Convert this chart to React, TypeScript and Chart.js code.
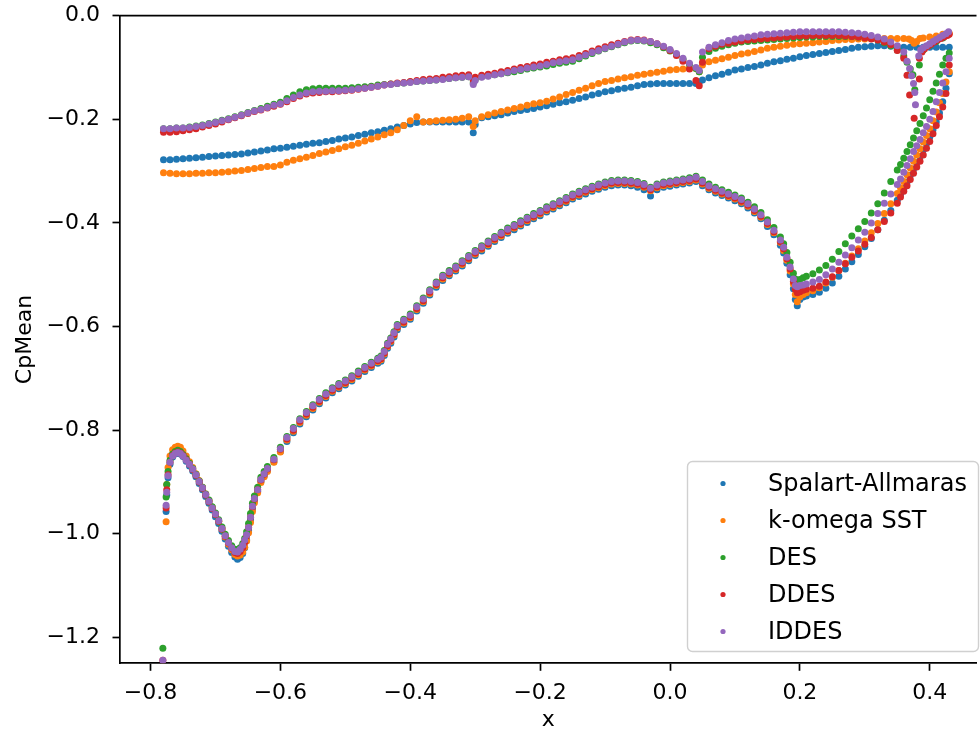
import React, { useEffect, useRef } from "react";
import { Chart, registerables } from "chart.js";

Chart.register(...registerables);

// ---------- data ----------
const seriesLabels = ["Spalart-Allmaras", "k-omega SST", "DES", "DDES", "IDDES"];
const seriesColors = ["#1f77b4", "#ff7f0e", "#2ca02c", "#d62728", "#9467bd"];

const xTicks = [-0.8, -0.6, -0.4, -0.2, 0.0, 0.2, 0.4];
const yTicks = [-1.2, -1.0, -0.8, -0.6, -0.4, -0.2, 0.0];

// upper surface (shared x)
const upperX = [
  -0.78, -0.77, -0.76, -0.75, -0.74, -0.73, -0.72, -0.71, -0.70, -0.69,
  -0.68, -0.67, -0.66, -0.65, -0.64, -0.63, -0.62, -0.61, -0.60, -0.59,
  -0.58, -0.57, -0.56, -0.55, -0.54, -0.53, -0.52, -0.51, -0.50, -0.49,
  -0.48, -0.47, -0.46, -0.45, -0.44, -0.43, -0.42, -0.41, -0.40, -0.39,
  -0.38, -0.37, -0.36, -0.35, -0.34, -0.33, -0.32, -0.31, -0.303, -0.30,
  -0.29, -0.28, -0.27, -0.26, -0.25, -0.24, -0.23, -0.22, -0.21, -0.20,
  -0.19, -0.18, -0.17, -0.16, -0.15, -0.14, -0.13, -0.12, -0.11, -0.10,
  -0.09, -0.08, -0.07, -0.06, -0.05, -0.04, -0.03, -0.02, -0.01, 0.00,
  0.01, 0.02, 0.03, 0.04, 0.045, 0.05, 0.06, 0.07, 0.08, 0.09,
  0.10, 0.11, 0.12, 0.13, 0.14, 0.15, 0.16, 0.17, 0.18, 0.19,
  0.20, 0.21, 0.22, 0.23, 0.24, 0.25, 0.26, 0.27, 0.28, 0.29,
  0.30, 0.31, 0.32, 0.33, 0.34, 0.35, 0.36,
];

const saUpper = [
  -0.278, -0.278, -0.277, -0.276, -0.275, -0.274, -0.273, -0.272, -0.271, -0.270,
  -0.269, -0.268, -0.267, -0.265, -0.263, -0.261, -0.259, -0.257, -0.256, -0.254,
  -0.252, -0.250, -0.248, -0.246, -0.245, -0.243, -0.241, -0.238, -0.236, -0.234,
  -0.231, -0.229, -0.226, -0.224, -0.221, -0.218, -0.215, -0.212, -0.209, -0.206,
  -0.205, -0.205, -0.205, -0.205, -0.205, -0.205, -0.205, -0.205, -0.226, -0.210,
  -0.197, -0.195, -0.193, -0.191, -0.188, -0.185, -0.183, -0.181, -0.179, -0.176,
  -0.174, -0.171, -0.168, -0.166, -0.163, -0.160, -0.157, -0.153, -0.150, -0.147,
  -0.145, -0.142, -0.140, -0.138, -0.135, -0.133, -0.132, -0.131, -0.131, -0.131,
  -0.131, -0.131, -0.131, -0.131, -0.128, -0.124, -0.120, -0.116, -0.113, -0.109,
  -0.105, -0.103, -0.100, -0.098, -0.095, -0.092, -0.089, -0.087, -0.084, -0.082,
  -0.079, -0.077, -0.075, -0.073, -0.071, -0.069, -0.067, -0.065, -0.063, -0.061,
  -0.060, -0.059, -0.058, -0.058, -0.059, -0.060, -0.061,
];

const kwUpper = [
  -0.303, -0.304, -0.305, -0.305, -0.305, -0.304, -0.304, -0.303, -0.303, -0.302,
  -0.301, -0.300, -0.299, -0.297, -0.295, -0.293, -0.291, -0.291, -0.288, -0.283,
  -0.279, -0.276, -0.273, -0.270, -0.266, -0.263, -0.260, -0.257, -0.253, -0.250,
  -0.246, -0.242, -0.238, -0.234, -0.230, -0.226, -0.220, -0.212, -0.203, -0.195,
  -0.205, -0.204, -0.203, -0.202, -0.201, -0.200, -0.198, -0.195, -0.214, -0.203,
  -0.195, -0.191, -0.188, -0.185, -0.182, -0.179, -0.176, -0.173, -0.170, -0.168,
  -0.165, -0.161, -0.157, -0.152, -0.148, -0.144, -0.140, -0.135, -0.131, -0.127,
  -0.125, -0.122, -0.120, -0.118, -0.115, -0.113, -0.111, -0.109, -0.107, -0.105,
  -0.104, -0.103, -0.102, -0.102, -0.108, -0.095, -0.089, -0.086, -0.083, -0.080,
  -0.077, -0.074, -0.072, -0.069, -0.066, -0.063, -0.061, -0.059, -0.057, -0.055,
  -0.054, -0.053, -0.052, -0.051, -0.050, -0.048, -0.047, -0.046, -0.046, -0.045,
  -0.045, -0.044, -0.044, -0.044, -0.044, -0.044, -0.044,
];

const desUpper = [
  -0.218, -0.218, -0.217, -0.217, -0.215, -0.213, -0.211, -0.208, -0.205, -0.202,
  -0.199, -0.195, -0.191, -0.187, -0.183, -0.179, -0.175, -0.171, -0.167, -0.160,
  -0.153, -0.147, -0.143, -0.141, -0.140, -0.140, -0.140, -0.140, -0.140, -0.139,
  -0.138, -0.137, -0.136, -0.134, -0.133, -0.132, -0.131, -0.130, -0.128, -0.127,
  -0.126, -0.125, -0.124, -0.122, -0.121, -0.120, -0.119, -0.118, -0.130, -0.123,
  -0.118, -0.116, -0.114, -0.112, -0.110, -0.108, -0.106, -0.103, -0.101, -0.099,
  -0.097, -0.094, -0.092, -0.090, -0.088, -0.083, -0.078, -0.073, -0.068, -0.064,
  -0.060, -0.056, -0.052, -0.049, -0.048, -0.049, -0.052, -0.056, -0.062, -0.068,
  -0.075, -0.084, -0.094, -0.102, -0.108, -0.080, -0.069, -0.063, -0.059, -0.056,
  -0.053, -0.051, -0.050, -0.049, -0.048, -0.047, -0.046, -0.045, -0.044, -0.043,
  -0.042, -0.041, -0.041, -0.040, -0.040, -0.040, -0.040, -0.040, -0.040, -0.041,
  -0.042, -0.044, -0.047, -0.052, -0.058, -0.066, -0.078,
];

const ddesUpper = [
  -0.225, -0.225, -0.224, -0.222, -0.220, -0.218, -0.215, -0.212, -0.209, -0.205,
  -0.201, -0.197, -0.193, -0.189, -0.185, -0.182, -0.178, -0.175, -0.171, -0.166,
  -0.160, -0.155, -0.151, -0.149, -0.148, -0.147, -0.147, -0.146, -0.145, -0.144,
  -0.142, -0.140, -0.138, -0.136, -0.134, -0.132, -0.130, -0.129, -0.127, -0.125,
  -0.123, -0.122, -0.121, -0.119, -0.118, -0.116, -0.115, -0.114, -0.124, -0.119,
  -0.115, -0.113, -0.111, -0.108, -0.106, -0.103, -0.100, -0.098, -0.095, -0.093,
  -0.090, -0.088, -0.085, -0.083, -0.081, -0.077, -0.073, -0.068, -0.064, -0.060,
  -0.056, -0.053, -0.050, -0.047, -0.046, -0.047, -0.050, -0.054, -0.060, -0.067,
  -0.077, -0.088, -0.103, -0.125, -0.135, -0.090, -0.064, -0.059, -0.055, -0.053,
  -0.051, -0.049, -0.047, -0.046, -0.045, -0.044, -0.043, -0.042, -0.041, -0.040,
  -0.039, -0.039, -0.038, -0.038, -0.038, -0.038, -0.038, -0.039, -0.040, -0.041,
  -0.043, -0.045, -0.047, -0.051, -0.056, -0.067, -0.082,
];

const iddesUpper = [
  -0.218, -0.218, -0.217, -0.217, -0.216, -0.214, -0.212, -0.209, -0.206, -0.203,
  -0.200, -0.196, -0.192, -0.188, -0.184, -0.181, -0.177, -0.173, -0.170, -0.164,
  -0.158, -0.153, -0.149, -0.147, -0.146, -0.146, -0.145, -0.145, -0.144, -0.143,
  -0.141, -0.140, -0.138, -0.136, -0.134, -0.133, -0.131, -0.130, -0.129, -0.127,
  -0.126, -0.125, -0.124, -0.123, -0.121, -0.120, -0.119, -0.118, -0.133, -0.125,
  -0.119, -0.117, -0.114, -0.112, -0.109, -0.106, -0.104, -0.101, -0.099, -0.097,
  -0.094, -0.091, -0.089, -0.087, -0.085, -0.080, -0.076, -0.071, -0.067, -0.063,
  -0.059, -0.055, -0.051, -0.048, -0.047, -0.048, -0.050, -0.054, -0.059, -0.065,
  -0.073, -0.082, -0.092, -0.100, -0.106, -0.070, -0.061, -0.056, -0.052, -0.048,
  -0.045, -0.043, -0.041, -0.039, -0.037, -0.036, -0.035, -0.034, -0.033, -0.032,
  -0.031, -0.031, -0.031, -0.031, -0.031, -0.031, -0.031, -0.032, -0.033, -0.034,
  -0.036, -0.038, -0.041, -0.045, -0.051, -0.058, -0.070,
];

// trailing-edge cusp of the upper surface (own x per series)
const saTeX = [0.37, 0.38, 0.39, 0.40, 0.41, 0.42, 0.43];
const saTeY = [-0.061, -0.061, -0.061, -0.061, -0.061, -0.061, -0.061];
const kwTeX = [0.368, 0.372, 0.376, 0.380, 0.385, 0.39, 0.40, 0.41, 0.42, 0.43];
const kwTeY = [-0.045, -0.048, -0.053, -0.050, -0.044, -0.043, -0.041, -0.039, -0.036, -0.034];
const desTeX = [0.365, 0.370, 0.374, 0.377, 0.384, 0.39, 0.40, 0.41, 0.42, 0.428];
const desTeY = [-0.090, -0.103, -0.114, -0.143, -0.095, -0.066, -0.057, -0.050, -0.043, -0.037];
const ddesTeX = [0.365, 0.369, 0.376, 0.384, 0.384, 0.388, 0.392, 0.397, 0.402, 0.407, 0.412, 0.417, 0.422, 0.427, 0.43];
const ddesTeY = [-0.115, -0.153, -0.198, -0.122, -0.082, -0.070, -0.064, -0.059, -0.055, -0.051, -0.047, -0.044, -0.041, -0.038, -0.036];
const iddesTeX = [0.365, 0.369, 0.372, 0.375, 0.377, 0.378, 0.383, 0.386, 0.39, 0.395, 0.40, 0.405, 0.41, 0.415, 0.42, 0.425, 0.429];
const iddesTeY = [-0.088, -0.102, -0.116, -0.131, -0.148, -0.172, -0.078, -0.066, -0.062, -0.058, -0.054, -0.050, -0.046, -0.042, -0.038, -0.035, -0.031];

// lower surface (shared x)
const lowerX = [
  -0.781,
  -0.776, -0.775, -0.773, -0.770, -0.766, -0.762, -0.758, -0.754, -0.750, -0.745,
  -0.740, -0.735, -0.730, -0.725, -0.720, -0.715, -0.710, -0.705, -0.700, -0.695,
  -0.690, -0.685, -0.680, -0.675, -0.670, -0.666, -0.662, -0.658, -0.655, -0.652,
  -0.649, -0.646, -0.643, -0.640, -0.635, -0.630, -0.625, -0.620, -0.610, -0.600,
  -0.59, -0.58, -0.57, -0.56, -0.55, -0.54, -0.53, -0.52, -0.51, -0.50,
  -0.49, -0.48, -0.47, -0.46, -0.45, -0.445, -0.44, -0.435, -0.43, -0.425,
  -0.42, -0.41, -0.40, -0.39, -0.38, -0.37, -0.36, -0.35,
  -0.34, -0.33, -0.32, -0.31, -0.30, -0.29, -0.28, -0.27, -0.26, -0.25,
  -0.24, -0.23, -0.22, -0.21, -0.20, -0.19, -0.18, -0.17, -0.16, -0.15,
  -0.14, -0.13, -0.12, -0.11, -0.10, -0.09, -0.08, -0.07, -0.06, -0.05,
  -0.04, -0.03, -0.02, -0.01, 0.00, 0.01, 0.02, 0.03, 0.04, 0.05,
  0.06, 0.07, 0.08, 0.09, 0.10, 0.11, 0.12, 0.13, 0.14,
  0.15, 0.16, 0.17, 0.175, 0.18, 0.185, 0.19, 0.193, 0.196, 0.20, 0.205, 0.21,
  0.22, 0.23, 0.24, 0.25, 0.26, 0.27, 0.28, 0.29, 0.30, 0.31, 0.32, 0.33, 0.34, 0.35,
  0.355, 0.36, 0.365, 0.37, 0.375, 0.38, 0.385, 0.39, 0.395, 0.40, 0.405, 0.41, 0.415, 0.42, 0.425, 0.43,
];

const saLower = [
  null,
  -0.957, -0.925, -0.892, -0.866, -0.852, -0.846, -0.844, -0.846, -0.851, -0.860,
  -0.869, -0.879, -0.890, -0.903, -0.915, -0.928, -0.941, -0.954, -0.967, -0.980,
  -0.995, -1.010, -1.024, -1.036, -1.045, -1.049, -1.046, -1.038, -1.027, -1.012,
  -0.994, -0.973, -0.952, -0.936, -0.918, -0.899, -0.888, -0.878, -0.861, -0.841,
  -0.822, -0.805, -0.788, -0.774, -0.761, -0.749, -0.738, -0.728, -0.720, -0.713,
  -0.705, -0.696, -0.687, -0.679, -0.671, -0.667, -0.656, -0.642, -0.632, -0.620,
  -0.606, -0.596, -0.586, -0.570, -0.555, -0.539, -0.524, -0.511,
  -0.502, -0.493, -0.483, -0.473, -0.463, -0.454, -0.445, -0.436, -0.428, -0.420,
  -0.413, -0.406, -0.399, -0.392, -0.386, -0.379, -0.373, -0.367, -0.361, -0.354,
  -0.349, -0.344, -0.339, -0.335, -0.331, -0.328, -0.327, -0.327, -0.328, -0.331,
  -0.336, -0.348, -0.336, -0.331, -0.329, -0.327, -0.325, -0.323, -0.320, -0.328,
  -0.336, -0.342, -0.347, -0.352, -0.357, -0.363, -0.371, -0.381, -0.392,
  -0.407, -0.423, -0.443, -0.458, -0.478, -0.500, -0.527, -0.548, -0.560, -0.548, -0.543, -0.541,
  -0.538, -0.534, -0.526, -0.516, -0.503, -0.489, -0.475, -0.461, -0.446, -0.430, -0.413, -0.395, -0.376, -0.356,
  -0.345, -0.333, -0.321, -0.308, -0.296, -0.284, -0.272, -0.259, -0.247, -0.234, -0.220, -0.205, -0.188, -0.166, -0.140, -0.112,
];

const kwLower = [
  null,
  -0.977, -0.905, -0.872, -0.850, -0.838, -0.833, -0.831, -0.833, -0.840, -0.850,
  -0.861, -0.872, -0.884, -0.897, -0.910, -0.923, -0.936, -0.949, -0.962, -0.976,
  -0.991, -1.006, -1.020, -1.031, -1.040, -1.043, -1.041, -1.035, -1.026, -1.014,
  -0.998, -0.978, -0.957, -0.940, -0.921, -0.901, -0.890, -0.880, -0.862, -0.842,
  -0.819, -0.802, -0.785, -0.771, -0.758, -0.746, -0.735, -0.725, -0.717, -0.710,
  -0.702, -0.693, -0.684, -0.676, -0.668, -0.664, -0.653, -0.639, -0.629, -0.617,
  -0.603, -0.593, -0.583, -0.567, -0.552, -0.536, -0.521, -0.508,
  -0.499, -0.490, -0.480, -0.470, -0.460, -0.451, -0.442, -0.433, -0.425, -0.417,
  -0.410, -0.403, -0.396, -0.389, -0.383, -0.376, -0.370, -0.364, -0.358, -0.351,
  -0.346, -0.341, -0.336, -0.332, -0.328, -0.325, -0.324, -0.324, -0.325, -0.327,
  -0.331, -0.338, -0.332, -0.328, -0.326, -0.324, -0.322, -0.320, -0.317, -0.325,
  -0.333, -0.339, -0.344, -0.349, -0.354, -0.360, -0.368, -0.378, -0.389,
  -0.403, -0.419, -0.438, -0.453, -0.472, -0.493, -0.518, -0.538, -0.552, -0.543, -0.538, -0.535,
  -0.531, -0.525, -0.516, -0.505, -0.492, -0.478, -0.464, -0.450, -0.435, -0.419, -0.401, -0.382, -0.363, -0.343,
  -0.332, -0.320, -0.307, -0.294, -0.281, -0.269, -0.257, -0.244, -0.231, -0.218, -0.203, -0.186, -0.168, -0.150, -0.128, -0.108,
];

const desLower = [
  -1.221,
  -0.929, -0.905, -0.880, -0.858, -0.846, -0.841, -0.839, -0.841, -0.847, -0.855,
  -0.864, -0.874, -0.885, -0.898, -0.910, -0.923, -0.935, -0.948, -0.960, -0.973,
  -0.987, -1.001, -1.013, -1.023, -1.030, -1.031, -1.027, -1.019, -1.009, -0.996,
  -0.980, -0.961, -0.941, -0.927, -0.910, -0.891, -0.880, -0.870, -0.853, -0.833,
  -0.812, -0.795, -0.778, -0.764, -0.751, -0.739, -0.728, -0.718, -0.710, -0.703,
  -0.695, -0.686, -0.677, -0.669, -0.661, -0.657, -0.646, -0.632, -0.622, -0.610,
  -0.596, -0.586, -0.576, -0.560, -0.545, -0.529, -0.514, -0.501,
  -0.492, -0.483, -0.473, -0.463, -0.453, -0.444, -0.435, -0.426, -0.418, -0.410,
  -0.403, -0.396, -0.389, -0.382, -0.376, -0.369, -0.363, -0.357, -0.351, -0.344,
  -0.339, -0.334, -0.329, -0.325, -0.321, -0.318, -0.317, -0.317, -0.318, -0.320,
  -0.324, -0.331, -0.325, -0.321, -0.319, -0.317, -0.315, -0.313, -0.310, -0.317,
  -0.325, -0.331, -0.336, -0.341, -0.346, -0.352, -0.360, -0.369, -0.380,
  -0.394, -0.409, -0.427, -0.440, -0.457, -0.476, -0.497, -0.508, -0.511, -0.509, -0.506, -0.503,
  -0.498, -0.491, -0.482, -0.470, -0.455, -0.440, -0.425, -0.411, -0.397, -0.381, -0.363, -0.342, -0.320, -0.298,
  -0.287, -0.275, -0.262, -0.249, -0.236, -0.222, -0.208, -0.193, -0.178, -0.162, -0.146, -0.130, -0.113, -0.095, -0.082, -0.072,
];

const ddesLower = [
  -1.244,
  -0.950, -0.915, -0.886, -0.862, -0.849, -0.844, -0.842, -0.844, -0.849, -0.857,
  -0.866, -0.876, -0.887, -0.900, -0.912, -0.925, -0.938, -0.951, -0.963, -0.976,
  -0.991, -1.005, -1.018, -1.028, -1.036, -1.038, -1.034, -1.027, -1.017, -1.004,
  -0.988, -0.968, -0.948, -0.933, -0.915, -0.896, -0.885, -0.875, -0.857, -0.837,
  -0.817, -0.800, -0.783, -0.769, -0.756, -0.744, -0.733, -0.723, -0.715, -0.708,
  -0.700, -0.691, -0.682, -0.674, -0.666, -0.662, -0.651, -0.637, -0.627, -0.615,
  -0.601, -0.591, -0.581, -0.565, -0.550, -0.534, -0.519, -0.506,
  -0.497, -0.488, -0.478, -0.468, -0.458, -0.449, -0.440, -0.431, -0.423, -0.415,
  -0.408, -0.401, -0.394, -0.387, -0.381, -0.374, -0.368, -0.362, -0.356, -0.349,
  -0.344, -0.339, -0.334, -0.330, -0.326, -0.323, -0.322, -0.322, -0.323, -0.325,
  -0.329, -0.336, -0.330, -0.326, -0.324, -0.322, -0.320, -0.318, -0.315, -0.323,
  -0.331, -0.337, -0.342, -0.347, -0.352, -0.358, -0.366, -0.376, -0.387,
  -0.401, -0.417, -0.436, -0.450, -0.469, -0.489, -0.513, -0.528, -0.535, -0.533, -0.530, -0.528,
  -0.526, -0.522, -0.514, -0.504, -0.492, -0.479, -0.466, -0.454, -0.441, -0.428, -0.413, -0.397, -0.381, -0.362,
  -0.350, -0.339, -0.328, -0.316, -0.304, -0.292, -0.281, -0.269, -0.256, -0.243, -0.228, -0.212, -0.195, -0.176, -0.150, -0.095,
];

const iddesLower = [
  -1.244,
  -0.945, -0.920, -0.888, -0.862, -0.850, -0.845, -0.843, -0.845, -0.850, -0.858,
  -0.866, -0.875, -0.886, -0.899, -0.911, -0.924, -0.937, -0.950, -0.962, -0.975,
  -0.990, -1.004, -1.017, -1.027, -1.034, -1.035, -1.030, -1.022, -1.012, -1.002,
  -0.988, -0.968, -0.947, -0.932, -0.915, -0.895, -0.884, -0.874, -0.856, -0.836,
  -0.814, -0.797, -0.780, -0.766, -0.753, -0.741, -0.730, -0.720, -0.712, -0.705,
  -0.697, -0.688, -0.679, -0.671, -0.663, -0.659, -0.648, -0.634, -0.624, -0.612,
  -0.598, -0.588, -0.578, -0.562, -0.547, -0.531, -0.516, -0.503,
  -0.494, -0.485, -0.475, -0.465, -0.455, -0.446, -0.437, -0.428, -0.420, -0.412,
  -0.405, -0.398, -0.391, -0.384, -0.378, -0.371, -0.365, -0.359, -0.353, -0.346,
  -0.341, -0.336, -0.331, -0.327, -0.323, -0.320, -0.319, -0.319, -0.320, -0.322,
  -0.326, -0.333, -0.327, -0.323, -0.321, -0.319, -0.317, -0.315, -0.312, -0.320,
  -0.328, -0.334, -0.339, -0.344, -0.349, -0.355, -0.363, -0.373, -0.384,
  -0.398, -0.414, -0.433, -0.447, -0.466, -0.485, -0.508, -0.521, -0.523, -0.521, -0.520, -0.518,
  -0.514, -0.509, -0.500, -0.489, -0.476, -0.462, -0.448, -0.433, -0.418, -0.400, -0.382, -0.362, -0.344, -0.326,
  -0.315, -0.302, -0.289, -0.276, -0.262, -0.251, -0.239, -0.226, -0.214, -0.200, -0.185, -0.166, -0.148, -0.130, -0.108, -0.082,
];

// ---------- helpers ----------
type P = { x: number; y: number | null };
function pairs(xs: number[], ys: (number | null)[]): P[] {
  return xs.map((x, i) => ({ x, y: ys[i] === undefined ? null : ys[i] }));
}

const seriesData: P[][] = [
  [...pairs(upperX, saUpper), ...pairs(saTeX, saTeY), ...pairs(lowerX, saLower)],
  [...pairs(upperX, kwUpper), ...pairs(kwTeX, kwTeY), ...pairs(lowerX, kwLower)],
  [...pairs(upperX, desUpper), ...pairs(desTeX, desTeY), ...pairs(lowerX, desLower)],
  [...pairs(upperX, ddesUpper), ...pairs(ddesTeX, ddesTeY), ...pairs(lowerX, ddesLower)],
  [...pairs(upperX, iddesUpper), ...pairs(iddesTeX, iddesTeY), ...pairs(lowerX, iddesLower)],
];

const FONT = '"DejaVu Sans", sans-serif';

function fmt(v: number): string {
  const r = Math.round(v * 10) / 10;
  const s = Math.abs(r).toFixed(1);
  return r < 0 ? "\u2212" + s : s;
}

const framePlugin = {
  id: "frameAndLegend",
  afterDraw(chart: any) {
    const { ctx, chartArea } = chart;
    ctx.save();
    // top spine
    ctx.strokeStyle = "#000";
    ctx.lineWidth = 1.7;
    ctx.beginPath();
    ctx.moveTo(chartArea.left - 0.85, chartArea.top);
    ctx.lineTo(chartArea.right, chartArea.top);
    ctx.stroke();

    // legend box
    const bx = 687.5, by = 461.5, bw = 291, bh = 190, r = 5;
    ctx.beginPath();
    ctx.moveTo(bx + r, by);
    ctx.lineTo(bx + bw - r, by);
    ctx.arcTo(bx + bw, by, bx + bw, by + r, r);
    ctx.lineTo(bx + bw, by + bh - r);
    ctx.arcTo(bx + bw, by + bh, bx + bw - r, by + bh, r);
    ctx.lineTo(bx + r, by + bh);
    ctx.arcTo(bx, by + bh, bx, by + bh - r, r);
    ctx.lineTo(bx, by + r);
    ctx.arcTo(bx, by, bx + r, by, r);
    ctx.closePath();
    ctx.fillStyle = "rgba(255,255,255,0.8)";
    ctx.fill();
    ctx.strokeStyle = "#d0d0d0";
    ctx.lineWidth = 1.4;
    ctx.stroke();

    ctx.font = `24px ${FONT}`;
    ctx.textBaseline = "middle";
    ctx.textAlign = "left";
    const rowY0 = 483.5, rowStep = 37;
    seriesLabels.forEach((lab, i) => {
      const y = rowY0 + i * rowStep;
      ctx.fillStyle = seriesColors[i];
      ctx.beginPath();
      ctx.arc(723, y, 2.6, 0, Math.PI * 2);
      ctx.fill();
      ctx.fillStyle = "#000";
      ctx.fillText(lab, 768, y + 1);
    });
    ctx.restore();
  },
};

export default function App() {
  const ref = useRef<HTMLCanvasElement | null>(null);

  useEffect(() => {
    if (!ref.current) return;
    const datasets = seriesLabels.map((lab, i) => ({
      label: lab,
      data: seriesData[i],
      backgroundColor: seriesColors[i],
      borderColor: seriesColors[i],
      pointRadius: 3.5,
      pointBorderWidth: 0,
      pointHoverRadius: 3.5,
      showLine: false,
      order: seriesLabels.length - i,
    }));

    const chart = new Chart(ref.current, {
      type: "scatter",
      data: { datasets },
      options: {
        animation: false,
        responsive: false,
        devicePixelRatio: 1,
        layout: { padding: { top: 15.7, left: 0, right: 0, bottom: 0 } },
        plugins: {
          legend: { display: false },
          tooltip: { enabled: false },
          title: { display: false },
        },
        events: [],
        scales: {
          x: {
            type: "linear",
            position: "bottom",
            min: -0.847,
            max: 0.472,
            afterBuildTicks: (s: any) => {
              s.ticks = xTicks.map((v) => ({ value: v }));
            },
            afterFit: (s: any) => {
              s.height = 72.7;
              s.paddingLeft = 0;
              s.paddingRight = 0;
            },
            ticks: {
              callback: (v: any) => fmt(Number(v)),
              font: { family: FONT, size: 22 },
              color: "#000",
              padding: 9,
              maxRotation: 0,
              autoSkip: false,
            },
            grid: {
              display: true,
              drawOnChartArea: false,
              drawTicks: true,
              tickLength: 7.5,
              tickWidth: 1.7,
              tickColor: "#000",
            },
            border: { display: true, color: "#000", width: 1.7 },
            title: {
              display: true,
              text: "x",
              font: { family: FONT, size: 22 },
              color: "#000",
              padding: { top: 0, bottom: 2.5 },
            },
          },
          y: {
            type: "linear",
            position: "left",
            min: -1.25,
            max: 0,
            afterBuildTicks: (s: any) => {
              s.ticks = yTicks.map((v) => ({ value: v }));
            },
            afterFit: (s: any) => {
              s.width = 120;
              s.paddingTop = 0;
              s.paddingBottom = 0;
            },
            ticks: {
              callback: (v: any) => fmt(Number(v)),
              font: { family: FONT, size: 22 },
              color: "#000",
              padding: 12.5,
              autoSkip: false,
            },
            grid: {
              display: true,
              drawOnChartArea: false,
              drawTicks: true,
              tickLength: 7.5,
              tickWidth: 1.7,
              tickColor: "#000",
            },
            border: { display: true, color: "#000", width: 1.7 },
            title: {
              display: true,
              text: "CpMean",
              font: { family: FONT, size: 22 },
              color: "#000",
              padding: { top: 12, bottom: 0 },
            },
          },
        },
      },
      plugins: [framePlugin],
    });
    return () => chart.destroy();
  }, []);

  return (
    <div style={{ position: "absolute", left: 0, top: 0, width: 980, height: 736, background: "#fff" }}>
      <canvas ref={ref} width={980} height={736} style={{ display: "block", width: 980, height: 736 }} />
    </div>
  );
}
